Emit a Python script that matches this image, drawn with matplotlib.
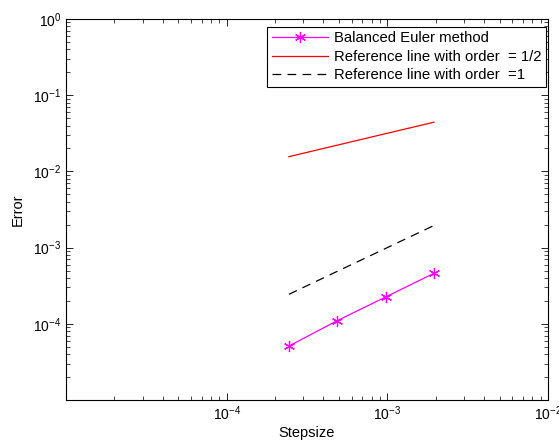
import matplotlib
matplotlib.use("Agg")
from matplotlib import pyplot as plt

plt.rcParams['font.family'] = ['Liberation Sans', 'DejaVu Sans']

# step sizes and errors
stepsize = [2.44e-4, 4.88e-4, 9.77e-4, 1.95e-3]
err_balanced = [5.1e-5, 1.1e-4, 2.25e-4, 4.6e-4]
ref_half = [1.56e-2, 2.21e-2, 3.13e-2, 4.42e-2]
ref_one = [2.44e-4, 4.88e-4, 9.77e-4, 1.95e-3]

labels = ["Balanced Euler method",
          "Reference line with order  = 1/2",
          "Reference line with order  =1"]

fig = plt.figure(figsize=(5.59, 4.43), dpi=100)
ax = fig.add_axes([66/559, 1 - 400/443, (548-66)/559, (400-19)/443])

ax.loglog(stepsize, err_balanced, '-', color='magenta', lw=0.9,
          marker=(6, 2, 0), ms=8, mew=0.9)
ax.loglog(stepsize, ref_half, '-', color='red', lw=0.9)
ax.loglog(stepsize, ref_one, '--', color='black', lw=0.9, dashes=(7, 5))

ax.set_xlim(1e-5, 1e-2)
ax.set_ylim(1e-5, 1e0)
ax.set_xticks([1e-4, 1e-3, 1e-2])
ax.set_yticks([1e-4, 1e-3, 1e-2, 1e-1, 1e0])

ax.tick_params(which='both', direction='in', top=True, right=True, labelsize=10)
ax.tick_params(which='major', length=5, width=0.6)
ax.tick_params(which='minor', length=3, width=0.5)
for s in ax.spines.values():
    s.set_linewidth(0.8)

ax.set_xlabel("Stepsize", fontsize=10.5, labelpad=2)
ax.set_ylabel("Error", fontsize=10.5, labelpad=6)

leg = ax.legend(labels, loc='upper right', fontsize=10.7, handlelength=3.8,
                bbox_to_anchor=(546/559, 1 - 27/443),
                bbox_transform=fig.transFigure, borderaxespad=0,
                fancybox=False, framealpha=1,
                edgecolor='black', labelspacing=0.3, borderpad=0.3,
                handletextpad=0.4)
leg.get_frame().set_linewidth(0.8)

fig.savefig("out.png", dpi=100)
